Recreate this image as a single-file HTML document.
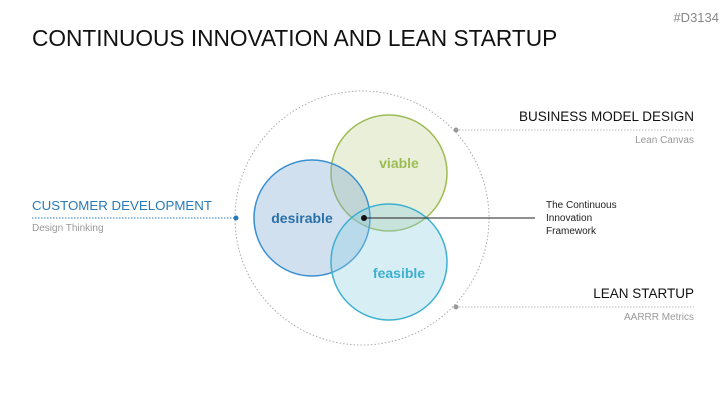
<!DOCTYPE html>
<html><head><style>
body{margin:0;width:727px;height:409px;background:#fff;overflow:hidden;font-family:"Liberation Sans",sans-serif;position:relative}
.t{position:absolute;white-space:nowrap}
</style></head><body>
<div class="t" style="left:32px;top:25px;font-size:22.7px;color:#111">CONTINUOUS INNOVATION AND LEAN STARTUP</div>
<div class="t" style="right:8px;top:10px;font-size:13px;color:#888">#D3134</div>
<svg width="727" height="409" style="position:absolute;left:0;top:0">
<circle cx="362" cy="218" r="127" fill="none" stroke="#aaa" stroke-width="1" stroke-dasharray="1.5,2"/>
<line x1="456" y1="130" x2="694" y2="130" stroke="#bbb" stroke-dasharray="1.5,1.5"/>
<line x1="456" y1="307" x2="694" y2="307" stroke="#bbb" stroke-dasharray="1.5,1.5"/>
<line x1="32" y1="218" x2="236" y2="218" stroke="#2a7ab8" stroke-dasharray="1.5,1.5"/>
<circle cx="456" cy="130" r="2.5" fill="#999"/>
<circle cx="456" cy="307" r="2.5" fill="#999"/>
<circle cx="236" cy="218" r="2.5" fill="#2a7ab8"/>
<circle cx="389" cy="173" r="58" fill="rgba(200,215,160,0.4)" stroke="#9dbb55" stroke-width="1.5"/>
<circle cx="312" cy="218" r="58" fill="rgba(120,165,210,0.35)" stroke="#3a8fd0" stroke-width="1.5"/>
<circle cx="389" cy="262" r="58" fill="rgba(140,205,225,0.35)" stroke="#3db0d0" stroke-width="1.5"/>
<line x1="364" y1="218" x2="535" y2="218" stroke="#222" stroke-width="1"/>
<circle cx="364" cy="218" r="3" fill="#111"/>
<text x="399" y="168" font-size="14" font-weight="bold" fill="#9dbb55" text-anchor="middle" font-family="Liberation Sans">viable</text>
<text x="302" y="223" font-size="14" font-weight="bold" fill="#2a70a8" text-anchor="middle" font-family="Liberation Sans">desirable</text>
<text x="399" y="278" font-size="14" font-weight="bold" fill="#3db0d0" text-anchor="middle" font-family="Liberation Sans">feasible</text>
</svg>
<div class="t" style="right:33px;top:109px;font-size:13.5px;color:#111">BUSINESS MODEL DESIGN</div>
<div class="t" style="right:33px;top:135px;font-size:10px;color:#999">Lean Canvas</div>
<div class="t" style="right:33px;top:286px;font-size:13.5px;color:#111">LEAN STARTUP</div>
<div class="t" style="right:33px;top:312px;font-size:10px;color:#999">AARRR Metrics</div>
<div class="t" style="left:32px;top:198px;font-size:13.3px;color:#2a7ab8">CUSTOMER DEVELOPMENT</div>
<div class="t" style="left:32px;top:223px;font-size:10px;color:#999">Design Thinking</div>
<div class="t" style="left:546px;top:199px;font-size:10px;color:#222;line-height:13px">The Continuous<br>Innovation<br>Framework</div>
</body></html>
